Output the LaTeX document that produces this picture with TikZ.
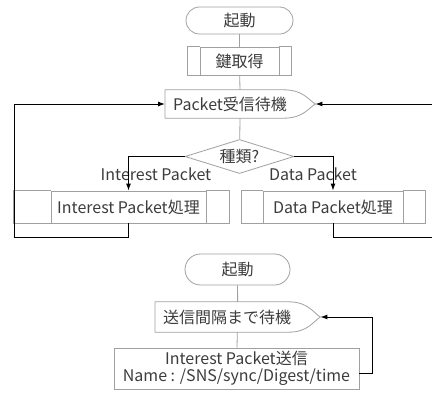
\documentclass[tikz,border=0pt]{standalone}
\usepackage{fontspec}
\setmainfont{Noto Sans CJK JP}
\usetikzlibrary{shapes.geometric, arrows.meta}
\definecolor{monGris}{RGB}{160,160,160}
\definecolor{monTexte}{RGB}{60,60,60}

\begin{document}
\begin{tikzpicture}[x=1pt, y=-1pt,
        every node/.style={font=\fontsize{16}{17}\selectfont, text=monTexte},
        box/.style={draw=monGris, line width=0.8pt, inner sep=0pt},
        term/.style={box, rounded corners=13.5pt, minimum width=107pt, minimum height=27pt},
        subproc/.style 2 args={box, minimum height=28pt,
            append after command={\pgfextra{\draw[monGris, line width=0.8pt]
                (\tikzlastnode.north west) -- ++(-#1,0) |- (\tikzlastnode.south west)
                (\tikzlastnode.north east) -- ++(#2,0) |- (\tikzlastnode.south east);}}},
        wait/.style={inner sep=0pt, inner xsep=8pt, text width=#1, align=left, minimum height=28pt,
            append after command={\pgfextra{\draw[monGris, line width=0.8pt]
                (\tikzlastnode.north west) -- ([xshift=-32pt]\tikzlastnode.north east)
                .. controls ([xshift=-12pt]\tikzlastnode.north east) and ([xshift=-7pt, yshift=4pt]\tikzlastnode.east) .. (\tikzlastnode.east)
                .. controls ([xshift=-7pt, yshift=-4pt]\tikzlastnode.east) and ([xshift=-12pt]\tikzlastnode.south east) .. ([xshift=-32pt]\tikzlastnode.south east)
                -- (\tikzlastnode.south west) -- cycle;}}},
        dec/.style={box, diamond, aspect=3.2, minimum width=109pt, minimum height=34pt},
        proc/.style={box, align=center, minimum width=245pt, minimum height=41pt},
        link/.style={draw=monGris, line width=0.8pt},
        flow/.style={draw=black, line width=1pt, -{Latex[length=7pt, width=5pt]}}
    ]
        \useasboundingbox (0,0) rectangle (432,400);

        % Premier organigramme
        \node[term] (start1) at (239.5,20.5) {起動};
        \node[subproc={12}{12}, minimum width=79pt] (key) at (239.5,61) {鍵取得};
        \node[wait=134pt, anchor=west] (recv) at (165,104) {Packet受信待機};
        \node[dec] (kind) at (239.5,156.5) {種類?};
        \node[subproc={37}{23}, minimum width=155pt, minimum height=32pt] (ibox) at (128.5,207) {Interest Packet処理};
        \node[subproc={21}{22}, minimum width=140pt, minimum height=32pt] (dbox) at (333,207) {Data Packet処理};
        \node (ilab) at (156,174) {Interest Packet};
        \node (dlab) at (313,174) {Data Packet};

        \draw[link] (start1) -- (key);
        \draw[link] (key) -- (recv);
        \draw[link] (recv) -- (kind);
        \draw[flow] (kind.west) -| (ibox.north);
        \draw[flow] (kind.east) -| (dbox.north);

        % Retours
        \coordinate (lret) at (14,237);
        \coordinate (rret) at (440,237);
        \draw[flow] (ibox.south) |- (lret) |- (recv.west);
        \draw[flow] (dbox.south) |- (rret) |- (recv.east);

        % Second organigramme
        \node[term, minimum width=105pt, minimum height=31pt, rounded corners=15.5pt] (start2) at (237.5,269.5) {起動};
        \node[wait=149pt, minimum height=30pt, anchor=west] (wait2) at (155,317) {送信間隔まで待機};
        \node[proc] (send) at (236.5,368.5) {Interest Packet送信\\Name : /SNS/sync/Digest/time};

        \draw[link] (start2) -- (wait2);
        \draw[link] (wait2) -- (send);
        \coordinate (sret) at (372,317);
        \draw[flow] ([yshift=-5pt]send.east) -| (sret) -- (wait2.east);
    \end{tikzpicture}
\end{document}
